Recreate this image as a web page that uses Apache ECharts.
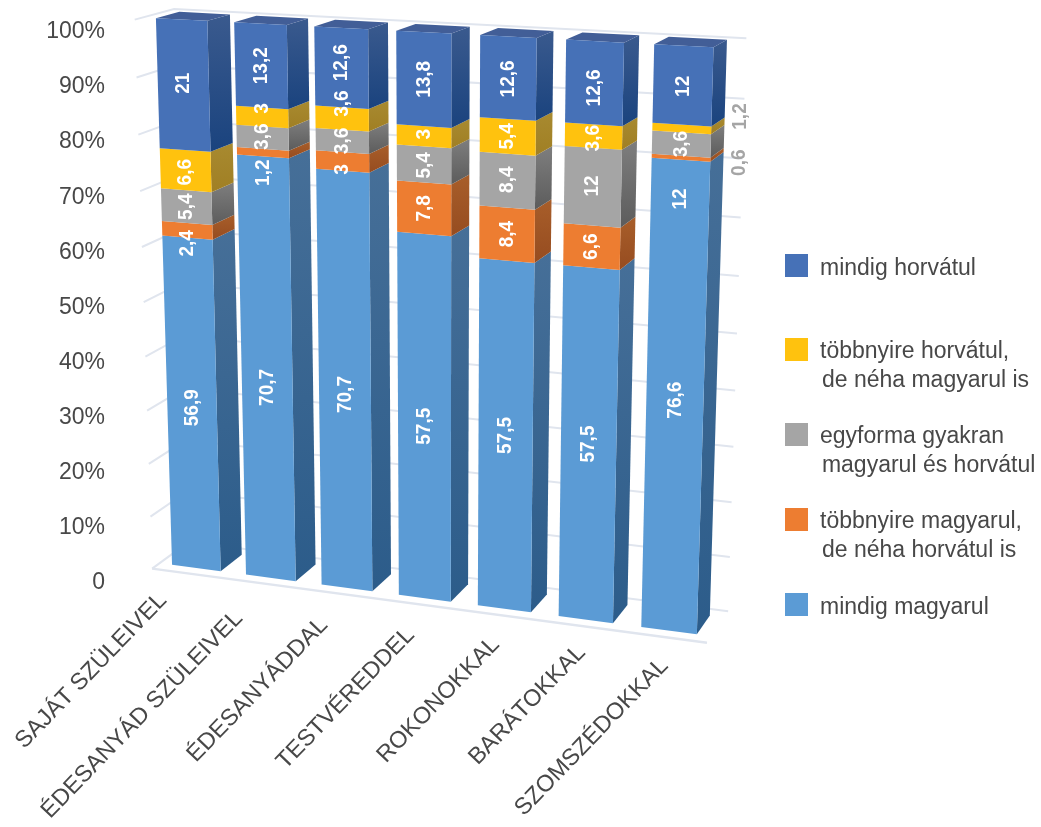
<!DOCTYPE html>
<html>
<head>
<meta charset="utf-8">
<style>html,body{margin:0;background:#fff}#c{width:1041px;height:827px}</style>
<script src="https://cdn.jsdelivr.net/npm/echarts@6/dist/echarts.min.js"></script>
</head>
<body>
<div id="c"></div>
<script>
// Categories and values (stacked to 100% per category)
const categories = ['SAJÁT SZÜLEIVEL','ÉDESANYÁD SZÜLEIVEL','ÉDESANYÁDDAL','TESTVÉREDDEL','ROKONOKKAL','BARÁTOKKAL','SZOMSZÉDOKKAL'];
const mindigMagyarul = [56.9,70.7,70.7,57.5,57.5,57.5,76.6];
const tobbnyireMagyarul = [2.4,1.2,3,7.8,8.4,6.6,0.6];
const egyforma = [5.4,3.6,3.6,5.4,8.4,12,3.6];
const tobbnyireHorvatul = [6.6,3,3.6,3,5.4,3.6,1.2];
const mindigHorvatul = [21,13.2,12.6,13.8,12.6,12.6,12];
const axisTicks = [0,10,20,30,40,50,60,70,80,90,100];
const seriesNames = ['mindig magyarul','többnyire magyarul,\n\u200ade néha horvátul is','egyforma gyakran\n\u200amagyarul és horvátul','többnyire horvátul,\n\u200ade néha magyarul is','mindig horvátul'];
const layers = [mindigMagyarul,tobbnyireMagyarul,egyforma,tobbnyireHorvatul,mindigHorvatul];
// A stray value printed inside the last column
const looseLabels = [[6,75,'12']];

// Face colours per layer
const frontColors = ['#5B9BD5','#ED7D31','#A5A5A5','#FFC20E','#4671B7'];
const sideTop = ['#466F98','#A85E2A','#7E7E7E','#A88A30','#3A5A8E'];
const sideBottom = ['#2C5C8A','#964C20','#5C5C5C','#A07F24','#1A437E'];
const roofColor = '#425E97';
const wallColor = '#E0E5EE';
const textColor = '#484848';
const FONT = '"Liberation Sans", Arial, sans-serif';

// Label nudges in pixels: [layer][category]
const labelShiftY = [
  [2,15.5,10.5,6.5,-2.5,-3,-1],
  [13,20,8,0,0,0,5],
  [0,-1,0,1,-1,-1,0],
  [2,-8.5,-15,-2,0,2,-12],
  [-2,0,-5,0,1,5,1]
];
const labelShiftX = [
  [0,0,0,0,0,0,0],
  [0,0,0,0,0,0,58],
  [0,0,0,0,0,0,0],
  [0,0,0,0,0,0,59],
  [0,0,0,0,0,0,0]
];
const xLabelShift = [[-26,23],[-25,31],[-16.5,27.5],[-8,27],[-3,26],[1,23],[0,25]];

// Rotated value labels are stretched across the line direction
const labelStretch = 1.1;
const labelFont = 'bold 19px ' + FONT;
const categoryAngle = 46 * Math.PI / 180;

// Scene layout: c along the categories, v up the value axis, d into the depth (all 0..1)
const barFill = 0.66, depthNear = 0.2, depthFar = 0.8;

// Camera calibration: where known scene points land on the page [c,v,d,X,Y]
const cL = i => (i + 0.5 - barFill / 2) / 7, cR = i => (i + 0.5 + barFill / 2) / 7;
const cameraPoints = [
  [cL(0),1,depthNear,156,18.3],[cR(0),1,depthNear,207,20.5],[cL(0),0,depthNear,172,565],[cR(0),0,depthNear,220,571],[cR(0),1,depthFar,229.7,14],[cR(0),0,depthFar,241,555],
  [cL(3),1,depthNear,396.7,30.7],[cR(3),1,depthNear,451,34.3],[cL(3),0,depthNear,399,595.7],[cR(3),0,depthNear,450.7,601.7],[cR(3),1,depthFar,470,26.7],[cR(3),0,depthFar,468.7,584],
  [cL(6),1,depthNear,655,44.3],[cR(6),1,depthNear,713,46.7],[cL(6),0,depthNear,642,627.7],[cR(6),0,depthNear,696,634.3],[cR(6),1,depthFar,726,40],[cR(6),0,depthFar,709.3,615],
  [0,0,0,153,568],[0,1,0,134,20],[1,0,0,707.7,642],[0,1,1,175,9],[1,1,1,747,38],[1,0,1,728,612]
];

// Least-squares fit of the 3D projective camera
function fitCamera(pts) {
  const n = 11, A = [...Array(n)].map(() => Array(n + 1).fill(0));
  const add = (r, b) => { for (let i = 0; i < n; i++) { for (let j = 0; j < n; j++) A[i][j] += r[i] * r[j]; A[i][n] += r[i] * b; } };
  pts.forEach(([c, v, d, X, Y]) => {
    const x = X / 1000, y = Y / 1000;
    add([c, v, d, 1, 0, 0, 0, 0, -x * c, -x * v, -x * d], x);
    add([0, 0, 0, 0, c, v, d, 1, -y * c, -y * v, -y * d], y);
  });
  for (let i = 0; i < n; i++) {
    let m = i; for (let k = i + 1; k < n; k++) if (Math.abs(A[k][i]) > Math.abs(A[m][i])) m = k;
    [A[i], A[m]] = [A[m], A[i]];
    for (let k = 0; k < n; k++) if (k !== i) { const f = A[k][i] / A[i][i]; for (let j = i; j <= n; j++) A[k][j] -= f * A[i][j]; }
  }
  return A.map((row, i) => row[n] / row[i]);
}
const cam = fitCamera(cameraPoints);
function project(c, v, d) {
  const w = cam[8] * c + cam[9] * v + cam[10] * d + 1;
  return [1000 * (cam[0] * c + cam[1] * v + cam[2] * d + cam[3]) / w,
          1000 * (cam[4] * c + cam[5] * v + cam[6] * d + cam[7]) / w];
}

// Turn axis coordinates into scene coordinates through the grid's own scales
function sceneOf(params, api, cat, pct) {
  const r = params.coordSys, p = api.coord([cat, pct]);
  return { c: (p[0] - r.x) / r.width, v: 1 - (p[1] - r.y) / r.height, half: api.size([1, 0])[0] / r.width * barFill / 2 };
}
const fmt = v => String(v).replace('.', ',');

function renderSegment(layer) {
  return function (params, api) {
    const cat = api.value(0), lo = sceneOf(params, api, cat, api.value(1)), hi = sceneOf(params, api, cat, api.value(2));
    const L = lo.c - lo.half, R = lo.c + lo.half;
    const children = [];
    children.push({ type: 'polygon',
      shape: { points: [project(R, lo.v, depthNear), project(R, lo.v, depthFar), project(R, hi.v, depthFar), project(R, hi.v, depthNear)] },
      style: { fill: new echarts.graphic.LinearGradient(0, 0, 0, 1, [{ offset: 0, color: sideTop[layer] }, { offset: 1, color: sideBottom[layer] }]) } });
    if (layer === layers.length - 1) {
      children.push({ type: 'polygon',
        shape: { points: [project(L, hi.v, depthNear), project(L, hi.v, depthFar), project(R, hi.v, depthFar), project(R, hi.v, depthNear)] },
        style: { fill: roofColor } });
    }
    children.push({ type: 'polygon',
      shape: { points: [project(L, lo.v, depthNear), project(R, lo.v, depthNear), project(R, hi.v, depthNear), project(L, hi.v, depthNear)] },
      style: { fill: frontColors[layer] } });
    const mid = project(lo.c, (lo.v + hi.v) / 2, depthNear), dx = labelShiftX[layer][cat];
    children.push({ type: 'text', z2: 50, rotation: Math.PI / 2, scaleY: labelStretch,
      x: mid[0] + dx, y: mid[1] + labelShiftY[layer][cat],
      style: { text: fmt(api.value(3)), fill: dx ? '#A5A5A5' : '#fff', font: labelFont, align: 'center', verticalAlign: 'middle' } });
    return { type: 'group', children };
  };
}

function renderWall(params, api) {
  const s = sceneOf(params, api, 0, api.value(0));
  const corner = project(0, s.v, 1);
  const children = [
    { type: 'polyline', shape: { points: [project(0, s.v, 0), corner, project(1, s.v, 1)] }, style: { stroke: wallColor, lineWidth: 2, fill: null } }
  ];
  if (api.value(0) === 0) {
    children.push({ type: 'polyline', shape: { points: [project(0, 0, 0), project(1, 0, 0)] }, style: { stroke: wallColor, lineWidth: 2.4, fill: null } });
  }
  return { type: 'group', children };
}

function renderCategoryLabel(params, api) {
  const i = api.value(0), s = sceneOf(params, api, i, 0), p = project(s.c, 0, 0), o = xLabelShift[i];
  return { type: 'text', rotation: categoryAngle, x: p[0] + o[0], y: p[1] + o[1],
    style: { text: categories[i], fill: textColor, font: '23.5px ' + FONT, align: 'right', verticalAlign: 'middle' } };
}

function renderLoose(params, api) {
  const s = sceneOf(params, api, api.value(0), api.value(1)), p = project(s.c, s.v, depthNear);
  return { type: 'text', z2: 50, rotation: Math.PI / 2, scaleY: labelStretch, x: p[0], y: p[1],
    style: { text: looseLabels[params.dataIndex][2], fill: '#fff', font: labelFont, align: 'center', verticalAlign: 'middle' } };
}

// Each column is normalised to 100 and stacked
const totals = categories.map((_, i) => layers.reduce((a, l) => a + l[i], 0));
const running = categories.map(() => 0);
const barSeries = layers.map((vals, k) => ({
  type: 'custom', name: seriesNames[k], clip: false, silent: true,
  itemStyle: { color: frontColors[k] },
  renderItem: renderSegment(k),
  encode: { x: 0, y: [1, 2] },
  data: vals.map((v, i) => {
    const a = running[i]; running[i] += v / totals[i] * 100;
    return [i, a, running[i], v];
  })
}));

// One legend per entry; a blank spacer line sets where the text sits beside its swatch
const swatchCentres = { 4: 265.5, 3: 349.5, 2: 434.5, 1: 519.5, 0: 604.5 };
const legendLine = 28.3;
const legends = [4, 3, 2, 1, 0].map(k => {
  const lines = seriesNames[k].split('\n');
  const spacer = lines.length > 1 ? 33.3 : 6;
  const blockHeight = spacer + lines.length * legendLine;
  return {
    data: [seriesNames[k]], left: 785, top: swatchCentres[k] - blockHeight / 2, padding: 0, orient: 'vertical',
    icon: 'rect', itemWidth: 23, itemHeight: 23, selectedMode: false,
    formatter: () => '{s| }\n' + lines.map(l => '{a|' + l + '}').join('\n'),
    textStyle: {
      padding: [0, 0, 0, 7],
      rich: {
        s: { fontSize: 1, lineHeight: spacer, height: spacer },
        a: { fontFamily: FONT, fontSize: 23, color: textColor, lineHeight: legendLine }
      }
    }
  };
});

const chart = echarts.init(document.getElementById('c'), null, { renderer: 'canvas' });
chart.setOption({
  animation: false,
  backgroundColor: '#fff',
  legend: legends,
  grid: { left: 110, top: 32, width: 620, height: 550.7 },
  xAxis: { type: 'category', data: categories, show: false },
  yAxis: {
    type: 'value', min: 0, max: 100, interval: 10,
    axisLine: { show: false }, axisTick: { show: false }, splitLine: { show: false },
    axisLabel: { margin: 5, fontFamily: FONT, fontSize: 23, color: textColor, formatter: v => v === 0 ? '0' : v + '%' }
  },
  series: [
    { type: 'custom', name: 'walls', clip: false, silent: true, renderItem: renderWall, encode: { y: 0 }, data: axisTicks.map(t => [t]) },
    ...barSeries,
    { type: 'custom', name: 'loose', clip: false, silent: true, z: 5, renderItem: renderLoose, encode: { x: 0, y: 1 }, data: looseLabels.map(l => [l[0], l[1]]) },
    { type: 'custom', name: 'categories', clip: false, silent: true, renderItem: renderCategoryLabel, encode: { x: 0 }, data: categories.map((_, i) => [i]) }
  ]
});
</script>
</body>
</html>
